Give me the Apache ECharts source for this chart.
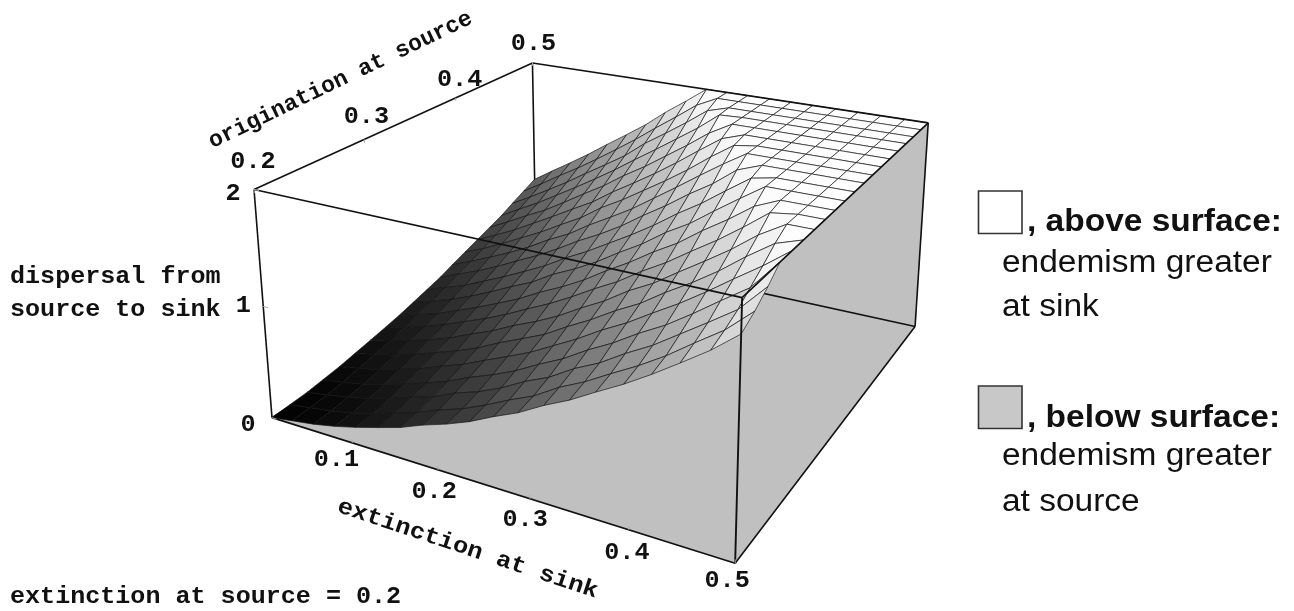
<!DOCTYPE html>
<html lang="en">

<head>
    <meta charset="UTF-8">
    <title>Dispersal surface</title>
    <script src="https://cdn.jsdelivr.net/npm/echarts@6/dist/echarts.min.js"></script>
    <style>
        html, body { margin: 0; padding: 0; background: #fff; }
        #main { width: 1294px; height: 611px; }
    </style>
</head>

<body>
    <div id="main"></div>

    <script>
        // grid of the surface
        var extinctionSink = [0, .026, .053, .079, .105, .132, .158, .184, .211, .237, .263, .289, .316, .342, .368, .395, .421, .447, .474, .5];
        var originationSource = [.2, .216, .232, .247, .263, .279, .295, .311, .326, .342, .358, .374, .389, .405, .421, .437, .453, .468, .484, .5];

        // dispersal, one row per extinctionSink value,
        // one entry per originationSource value
        var dispersal = [
            [0, .01, .02, .04, .06, .09, .12, .15, .18, .22, .26, .30, .35, .40, .45, .50, .55, .61, .67, .73],
            [.03, .04, .05, .07, .10, .13, .16, .20, .24, .28, .33, .38, .43, .48, .54, .60, .66, .72, .79, .86],
            [.06, .07, .09, .11, .14, .18, .22, .26, .30, .35, .40, .46, .52, .58, .64, .71, .77, .84, .92, .99],
            [.10, .11, .13, .16, .20, .24, .28, .33, .38, .43, .49, .55, .61, .68, .75, .81, .89, .96, 1.04, 1.12],
            [.15, .16, .19, .22, .26, .31, .35, .41, .46, .52, .58, .65, .71, .78, .86, .93, 1.01, 1.09, 1.17, 1.26],
            [.21, .23, .26, .29, .34, .38, .44, .49, .55, .62, .68, .75, .83, .90, .98, 1.06, 1.14, 1.22, 1.31, 1.40],
            [.27, .29, .32, .36, .41, .46, .52, .58, .64, .71, .78, .86, .93, 1.01, 1.09, 1.18, 1.27, 1.35, 1.45, 1.54],
            [.35, .37, .41, .45, .50, .56, .62, .68, .75, .83, .90, .98, 1.06, 1.15, 1.23, 1.32, 1.41, 1.51, 1.60, 1.70],
            [.42, .44, .48, .53, .59, .65, .71, .78, .85, .93, 1.01, 1.09, 1.18, 1.27, 1.36, 1.45, 1.55, 1.65, 1.75, 1.85],
            [.50, .53, .57, .62, .68, .74, .81, .89, .96, 1.04, 1.13, 1.21, 1.30, 1.40, 1.49, 1.59, 1.69, 1.79, 1.90, 2],
            [.60, .63, .68, .73, .79, .86, .93, 1.01, 1.09, 1.17, 1.25, 1.35, 1.44, 1.53, 1.63, 1.73, 1.83, 1.94, 2, 2],
            [.69, .72, .77, .83, .90, .97, 1.04, 1.12, 1.21, 1.29, 1.38, 1.48, 1.58, 1.67, 1.78, 1.88, 1.99, 2, 2, 2],
            [.81, .85, .90, .96, 1.03, 1.10, 1.18, 1.26, 1.35, 1.44, 1.53, 1.63, 1.73, 1.83, 1.93, 2, 2, 2, 2, 2],
            [.91, .95, 1.00, 1.07, 1.14, 1.21, 1.29, 1.38, 1.47, 1.56, 1.66, 1.76, 1.87, 1.97, 2, 2, 2, 2, 2, 2],
            [1.03, 1.07, 1.13, 1.20, 1.27, 1.35, 1.43, 1.52, 1.62, 1.71, 1.81, 1.92, 2, 2, 2, 2, 2, 2, 2, 2],
            [1.15, 1.19, 1.25, 1.32, 1.40, 1.48, 1.57, 1.66, 1.76, 1.86, 1.96, 2, 2, 2, 2, 2, 2, 2, 2, 2],
            [1.28, 1.32, 1.39, 1.46, 1.54, 1.62, 1.71, 1.81, 1.91, 2, 2, 2, 2, 2, 2, 2, 2, 2, 2, 2],
            [1.42, 1.47, 1.53, 1.61, 1.69, 1.78, 1.87, 1.97, 2, 2, 2, 2, 2, 2, 2, 2, 2, 2, 2, 2],
            [1.57, 1.62, 1.68, 1.76, 1.84, 1.93, 2, 2, 2, 2, 2, 2, 2, 2, 2, 2, 2, 2, 2, 2],
            [1.74, 1.81, 1.90, 2, 2, 2, 2, 2, 2, 2, 2, 2, 2, 2, 2, 2, 2, 2, 2, 2]
        ];

        var extinctionTicks = [.1, .2, .3, .4, .5];
        var originationTicks = [.2, .3, .4, .5];
        var dispersalTicks = [0, 1, 2];

        // box limits
        var eMin = 0, eMax = .5, oMin = .2, oMax = .5, dMin = 0, dMax = 2;

        // camera: where the eight box corners land on the page, [u, v, w, x, y]
        var cameraAnchors = [
            [0, 0, 0, 272, 418], [0, 0, 1, 254, 189.5],
            [0, 1, 0, 536, 243], [0, 1, 1, 532.3, 63.3],
            [1, 0, 0, 735, 563], [1, 0, 1, 742.3, 297.3],
            [1, 1, 0, 915, 327], [1, 1, 1, 928.3, 122.7]
        ];

        // least squares for the 3x4 projection matrix
        function fitCamera(pts) {
            var n = 11, A = [], r, c, k, i;
            for (r = 0; r < n; r++) {
                A.push([]);
                for (c = 0; c <= n; c++) A[r].push(0);
            }
            function addRow(row, rhs) {
                for (var a = 0; a < n; a++) {
                    for (var b = 0; b < n; b++) A[a][b] += row[a] * row[b];
                    A[a][n] += row[a] * rhs;
                }
            }
            pts.forEach(function(p) {
                addRow([p[0], p[1], p[2], 1, 0, 0, 0, 0, -p[3] * p[0], -p[3] * p[1], -p[3] * p[2]], p[3]);
                addRow([0, 0, 0, 0, p[0], p[1], p[2], 1, -p[4] * p[0], -p[4] * p[1], -p[4] * p[2]], p[4]);
            });
            for (c = 0; c < n; c++) {
                var best = c;
                for (r = c + 1; r < n; r++) if (Math.abs(A[r][c]) > Math.abs(A[best][c])) best = r;
                var tmp = A[c]; A[c] = A[best]; A[best] = tmp;
                for (r = 0; r < n; r++) {
                    if (r === c) continue;
                    var f = A[r][c] / A[c][c];
                    for (k = c; k <= n; k++) A[r][k] -= f * A[c][k];
                }
            }
            var m = [];
            for (i = 0; i < n; i++) m.push(A[i][n] / A[i][i]);
            return m;
        }
        var cam = fitCamera(cameraAnchors);

        // chart values -> position on the hidden page axes
        function project(e, o, d) {
            var u = (e - eMin) / (eMax - eMin), v = (o - oMin) / (oMax - oMin), w = (d - dMin) / (dMax - dMin);
            var h = cam[8] * u + cam[9] * v + cam[10] * w + 1;
            return [
                (cam[0] * u + cam[1] * v + cam[2] * w + cam[3]) / h,
                (cam[4] * u + cam[5] * v + cam[6] * w + cam[7]) / h
            ];
        }

        var last = extinctionSink.length - 1;

        // the walls follow the rim of the surface
        var frontWall = dispersal.map(function(row, i) { return [extinctionSink[i], oMin, row[0]]; });
        frontWall.push([eMax, oMin, dMin]);
        var rightWall = dispersal[last].map(function(d, j) { return [eMax, originationSource[j], d]; });
        rightWall.push([eMax, oMax, dMin], [eMax, oMin, dMin]);
        var floor = [[eMin, oMin, dMin], [eMax, oMin, dMin], [eMax, oMax, dMin], [eMin, oMax, dMin]];

        // far cells first
        var cells = [];
        for (var j = last - 1; j >= 0; j--) {
            for (var i = 0; i < last; i++) cells.push([i, j]);
        }

        function greyOf(d) {
            var g = Math.round(255 * Math.min(1, d / dMax));
            return 'rgb(' + g + ',' + g + ',' + g + ')';
        }

        function polygon(api, pts, style) {
            return {
                type: 'polygon',
                shape: { points: pts.map(function(p) { return api.coord(project(p[0], p[1], p[2])); }) },
                style: style
            };
        }

        function edge(api, a, b, width) {
            var p = api.coord(project(a[0], a[1], a[2])), q = api.coord(project(b[0], b[1], b[2]));
            return {
                type: 'line',
                shape: { x1: p[0], y1: p[1], x2: q[0], y2: q[1] },
                style: { stroke: '#111', lineWidth: width || 1.6, fill: null }
            };
        }

        // small grey tick: from p going a little toward the inside of the box
        function tick(api, a, b) {
            var p = api.coord(project(a[0], a[1], a[2])), q = api.coord(project(b[0], b[1], b[2]));
            return {
                type: 'line',
                shape: { x1: p[0], y1: p[1], x2: q[0], y2: q[1] },
                style: { stroke: '#aaa', lineWidth: 1, fill: null }
            };
        }

        function tickLabel(api, a, off, text) {
            var p = api.coord(project(a[0], a[1], a[2]));
            return {
                type: 'text',
                x: p[0] + off[0],
                y: p[1] + off[1],
                scaleX: 1.05,
                style: {
                    text: text,
                    font: 'bold 24px "Liberation Mono"',
                    fill: '#111',
                    textAlign: 'center',
                    textVerticalAlign: 'middle'
                }
            };
        }

        // offsets of the tick labels from their ticks, same order as the tick arrays
        var extinctionLabelOffsets = [[-16, 17], [-4, 22], [-5, 21], [-2, 23], [-8, 18]];
        var originationLabelOffsets = [[-1, -27], [2, -22], [4, -18], [1, -19]];
        var dispersalLabelOffsets = [[-24, 7], [-20, 0], [-21, 5]];

        var wallGrey = '#c0c0c0';

        var option = {
            animation: false,
            grid: { left: 0, top: 0, right: 0, bottom: 0 },
            xAxis: { type: 'value', min: 0, max: 1294, show: false },
            yAxis: { type: 'value', min: 0, max: 611, inverse: true, show: false },
            tooltip: { show: false },
            series: [{
                // walls and the edges that sit behind the surface
                type: 'custom',
                z: 1,
                silent: true,
                coordinateSystem: 'cartesian2d',
                data: [0],
                clip: false,
                renderItem: function(params, api) {
                    var wall = { fill: wallGrey, stroke: wallGrey, lineWidth: .5 };
                    return {
                        type: 'group',
                        children: [
                            polygon(api, floor, wall),
                            polygon(api, rightWall, wall),
                            polygon(api, frontWall, wall),
                            edge(api, [eMin, oMax, dMin], [eMax, oMax, dMin]),
                            edge(api, [eMin, oMin, dMin], [eMin, oMax, dMin]),
                            edge(api, [eMin, oMax, dMin], [eMin, oMax, dMax])
                        ]
                    };
                }
            }, {
                type: 'custom',
                z: 2,
                silent: true,
                coordinateSystem: 'cartesian2d',
                clip: false,
                data: cells,
                renderItem: function(params, api) {
                    var i = api.value(0), j = api.value(1);
                    var d00 = dispersal[i][j], d10 = dispersal[i + 1][j], d11 = dispersal[i + 1][j + 1], d01 = dispersal[i][j + 1];
                    return polygon(api, [
                        [extinctionSink[i], originationSource[j], d00],
                        [extinctionSink[i + 1], originationSource[j], d10],
                        [extinctionSink[i + 1], originationSource[j + 1], d11],
                        [extinctionSink[i], originationSource[j + 1], d01]
                    ], {
                        fill: greyOf((d00 + d10 + d11 + d01) / 4),
                        stroke: 'rgba(20,20,20,0.75)',
                        lineWidth: .9
                    });
                }
            }, {
                // the edges in front, ticks and tick labels
                type: 'custom',
                z: 3,
                silent: true,
                coordinateSystem: 'cartesian2d',
                clip: false,
                data: [0],
                renderItem: function(params, api) {
                    var kids = [
                        edge(api, [eMin, oMin, dMin], [eMin, oMin, dMax]),
                        edge(api, [eMin, oMin, dMax], [eMin, oMax, dMax]),
                        edge(api, [eMin, oMax, dMax], [eMax, oMax, dMax]),
                        edge(api, [eMax, oMax, dMax], [eMax, oMin, dMax]),
                        edge(api, [eMin, oMin, dMax], [eMax, oMin, dMax]),
                        edge(api, [eMax, oMin, dMax], [eMax, oMin, dMin], 1.9),
                        edge(api, [eMin, oMin, dMin], [eMax, oMin, dMin]),
                        edge(api, [eMax, oMin, dMin], [eMax, oMax, dMin]),
                        edge(api, [eMax, oMax, dMin], [eMax, oMax, dMax])
                    ];
                    extinctionTicks.forEach(function(t, k) {
                        kids.push(tick(api, [t, oMin, dMin], [t, oMin, dMin + .03]));
                        kids.push(tickLabel(api, [t, oMin, dMin], extinctionLabelOffsets[k], t.toFixed(1)));
                    });
                    originationTicks.forEach(function(t, k) {
                        kids.push(tick(api, [eMin, t, dMax], [eMin, t, dMax - .03]));
                        kids.push(tickLabel(api, [eMin, t, dMax], originationLabelOffsets[k], t.toFixed(1)));
                    });
                    dispersalTicks.forEach(function(t, k) {
                        kids.push(tick(api, [eMin, oMin, t], [eMin + .006, oMin, t]));
                        kids.push(tickLabel(api, [eMin, oMin, t], dispersalLabelOffsets[k], String(t)));
                    });
                    return { type: 'group', children: kids };
                }
            }],
            graphic: { elements: [] }
        };

        // fixed page text and the two legend squares
        function pageText(x, y, text, font, sx, rot) {
            return {
                type: 'text',
                x: x,
                y: y,
                scaleX: sx,
                rotation: rot || 0,
                silent: true,
                z: 5,
                style: { text: text, font: font, fill: '#111', textAlign: 'left', textVerticalAlign: 'middle' }
            };
        }
        function legendSquare(y, fill) {
            return {
                type: 'rect',
                silent: true,
                z: 5,
                shape: { x: 978.5, y: y, width: 43.5, height: 42.5 },
                style: { fill: fill, stroke: '#333', lineWidth: 1.6 }
            };
        }
        var mono = 'bold 23px "Liberation Mono"';
        var legendBold = 'bold 31px "Liberation Sans"';
        var legendPlain = '31px "Liberation Sans"';
        option.graphic.elements = [
            pageText(10, 277, 'dispersal from', mono, 1.09),
            pageText(10, 310, 'source to sink', mono, 1.09),
            pageText(210, 143, 'origination at source', mono, 1.0, 25.7 * Math.PI / 180),
            pageText(338, 506, 'extinction at sink', mono, 1.1, -18.4 * Math.PI / 180),
            pageText(10, 597, 'extinction at source = 0.2', mono, 1.09),
            legendSquare(191, '#fff'),
            pageText(1027, 222, ', above surface:', legendBold, 1.08),
            pageText(1002, 263, 'endemism greater', legendPlain, 1.08),
            pageText(1002, 307, 'at sink', legendPlain, 1.08),
            legendSquare(386, '#c8c8c8'),
            pageText(1027, 418, ', below surface:', legendBold, 1.08),
            pageText(1002, 456, 'endemism greater', legendPlain, 1.08),
            pageText(1002, 502, 'at source', legendPlain, 1.08)
        ];

        var myChart = echarts.init(document.getElementById('main'), null, { renderer: 'canvas' });
        myChart.setOption(option);
    </script>
</body>

</html>
